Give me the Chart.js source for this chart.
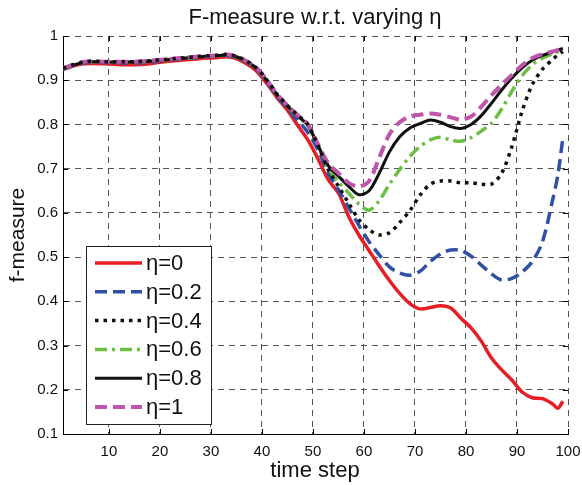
<!DOCTYPE html>
<html>
<head>
<meta charset="utf-8">
<script src="https://cdn.jsdelivr.net/npm/chart.js@4"></script>
<style>
html,body{margin:0;padding:0;background:#fff;}
canvas{display:block;}
</style>
</head>
<body>
<canvas id="c" width="582" height="485"></canvas>
<script>
const timeSteps = [1,3,5,7,9,11,13,15,17,19,21,23,25,27,29,31,33,35,37,39,41,43,45,47,49,51,53,55,57,59,61,63,65,67,69,71,73,75,77,79,81,83,85,87,89,91,93,95,97,98,99];

const eta0 = [0.924,0.932,0.937,0.938,0.937,0.936,0.935,0.935,0.936,0.939,0.942,0.944,0.946,0.948,0.950,0.951,0.953,0.949,0.937,0.920,0.892,0.860,0.832,0.798,0.765,0.722,0.675,0.645,0.592,0.550,0.515,0.480,0.447,0.418,0.395,0.383,0.386,0.390,0.385,0.362,0.340,0.310,0.272,0.245,0.222,0.195,0.182,0.180,0.168,0.158,0.174];
const eta02 = [0.925,0.933,0.939,0.941,0.940,0.940,0.939,0.939,0.940,0.942,0.945,0.947,0.949,0.951,0.953,0.954,0.956,0.952,0.941,0.924,0.896,0.863,0.837,0.810,0.782,0.742,0.690,0.652,0.612,0.572,0.535,0.505,0.478,0.464,0.459,0.468,0.490,0.507,0.516,0.515,0.502,0.482,0.462,0.448,0.452,0.466,0.490,0.535,0.630,0.685,0.770];
const eta04 = [0.927,0.935,0.941,0.943,0.942,0.942,0.942,0.942,0.943,0.945,0.947,0.949,0.951,0.953,0.955,0.956,0.958,0.954,0.943,0.927,0.900,0.868,0.843,0.821,0.800,0.752,0.698,0.660,0.622,0.585,0.562,0.550,0.555,0.578,0.605,0.640,0.665,0.672,0.672,0.668,0.668,0.665,0.665,0.690,0.750,0.830,0.890,0.925,0.947,0.957,0.965];
const eta06 = [0.926,0.934,0.940,0.942,0.941,0.941,0.941,0.941,0.942,0.944,0.946,0.948,0.950,0.952,0.954,0.955,0.957,0.953,0.942,0.926,0.898,0.866,0.841,0.819,0.797,0.752,0.702,0.670,0.645,0.620,0.606,0.628,0.665,0.698,0.728,0.750,0.765,0.771,0.765,0.762,0.770,0.785,0.803,0.835,0.875,0.910,0.935,0.950,0.960,0.964,0.968];
const eta08 = [0.926,0.934,0.940,0.942,0.941,0.941,0.941,0.941,0.942,0.944,0.946,0.948,0.950,0.952,0.954,0.955,0.957,0.953,0.942,0.926,0.898,0.866,0.841,0.819,0.798,0.752,0.707,0.683,0.660,0.641,0.650,0.690,0.738,0.772,0.792,0.802,0.810,0.805,0.795,0.791,0.800,0.820,0.848,0.878,0.905,0.928,0.945,0.956,0.964,0.968,0.972];
const eta1 = [0.927,0.935,0.941,0.943,0.942,0.942,0.942,0.942,0.943,0.945,0.947,0.949,0.951,0.953,0.955,0.956,0.958,0.954,0.943,0.927,0.900,0.868,0.843,0.821,0.800,0.755,0.712,0.690,0.668,0.660,0.672,0.725,0.778,0.805,0.818,0.822,0.825,0.822,0.816,0.811,0.818,0.840,0.866,0.890,0.912,0.934,0.950,0.959,0.965,0.968,0.972];

const seriesLabels = ['\u03b7=0','\u03b7=0.2','\u03b7=0.4','\u03b7=0.6','\u03b7=0.8','\u03b7=1'];
const xTickValues = [10,20,30,40,50,60,70,80,90,100];
const yTickValues = [0.1,0.2,0.3,0.4,0.5,0.6,0.7,0.8,0.9,1];

const FONT = '"Liberation Sans", Arial, Helvetica, sans-serif';

const styles = [
  {color:'#e61e23', width:3.5, dash:[], order:6},
  {color:'#3050a5', width:3.5, dash:[12,6], order:5},
  {color:'#111111', width:3.5, dash:[3.5,5], order:1},
  {color:'#6ebe46', width:3.5, dash:[12,5,3,5], order:4},
  {color:'#111111', width:3, dash:[], order:3},
  {color:'#be55aa', width:4, dash:[12,6], order:2}
];
const allSeries = [eta0, eta02, eta04, eta06, eta08, eta1];

const datasets = allSeries.map((vals, i) => ({
  label: seriesLabels[i],
  data: vals.map((v, k) => ({x: timeSteps[k], y: v})),
  borderColor: styles[i].color,
  backgroundColor: styles[i].color,
  borderWidth: styles[i].width,
  borderDash: styles[i].dash,
  borderCapStyle: 'butt',
  borderJoinStyle: 'round',
  pointRadius: 0,
  tension: 0.3,
  fill: false,
  order: styles[i].order
}));

const decor = {
  id: 'decor',
  afterDraw(chart) {
    const ctx = chart.ctx;
    const a = chart.chartArea;
    const xs = chart.scales.x, ys = chart.scales.y;
    ctx.save();
    // inward ticks
    ctx.strokeStyle = '#000';
    ctx.lineWidth = 1;
    ctx.setLineDash([]);
    ctx.beginPath();
    xTickValues.forEach(v => {
      const px = Math.round(xs.getPixelForValue(v)) + 0.5;
      ctx.moveTo(px, a.bottom); ctx.lineTo(px, a.bottom - 5);
      ctx.moveTo(px, a.top); ctx.lineTo(px, a.top + 5);
    });
    yTickValues.forEach(v => {
      const py = Math.round(ys.getPixelForValue(v)) + 0.5;
      ctx.moveTo(a.left, py); ctx.lineTo(a.left + 5, py);
      ctx.moveTo(a.right, py); ctx.lineTo(a.right - 5, py);
    });
    ctx.stroke();

    // titles
    ctx.fillStyle = '#111';
    ctx.textAlign = 'center';
    ctx.textBaseline = 'middle';
    ctx.font = '22px ' + FONT;
    ctx.fillText('F-measure w.r.t. varying \u03b7', 315, 18);
    ctx.font = '22px ' + FONT;
    ctx.fillText('time step', 315, 471);
    ctx.save();
    ctx.translate(18, (a.top + a.bottom) / 2);
    ctx.rotate(-Math.PI / 2);
    ctx.font = '21px ' + FONT;
    ctx.fillText('f-measure', 0, 0);
    ctx.restore();

    // legend
    const lx = 86.5, ly = 246.5, lw = 125, lh = 178;
    ctx.fillStyle = '#fff';
    ctx.fillRect(lx, ly, lw, lh);
    ctx.strokeStyle = '#222';
    ctx.lineWidth = 1;
    ctx.strokeRect(lx, ly, lw, lh);
    ctx.font = '22px ' + FONT;
    ctx.textAlign = 'left';
    ctx.textBaseline = 'middle';
    chart.data.datasets.forEach((ds, i) => {
      const y = 263 + i * 28.8;
      ctx.strokeStyle = ds.borderColor;
      ctx.lineWidth = ds.borderWidth;
      ctx.setLineDash(ds.borderDash);
      ctx.lineCap = 'butt';
      ctx.beginPath();
      ctx.moveTo(95, y); ctx.lineTo(142, y);
      ctx.stroke();
      ctx.setLineDash([]);
      ctx.fillStyle = '#111';
      ctx.fillText(ds.label, 146, y + 1);
    });
    ctx.restore();
  }
};

new Chart(document.getElementById('c'), {
  type: 'line',
  data: { datasets },
  plugins: [decor],
  options: {
    responsive: false,
    animation: false,
    layout: { padding: { left: 0, right: 14, top: 36, bottom: 0 } },
    plugins: { legend: { display: false }, tooltip: { enabled: false }, title: { display: false } },
    scales: {
      x: {
        type: 'linear',
        min: 1, max: 100,
        afterFit(s) { s.height = 51; s.paddingRight = 0; s.paddingLeft = 0; },
        afterBuildTicks(s) { s.ticks = xTickValues.map(v => ({value: v})); },
        grid: { color: '#555', lineWidth: 1, drawTicks: false },
        border: { display: true, color: '#000', width: 1, dash: [6, 5] },
        ticks: { color: '#111', font: { family: FONT, size: 15 }, padding: 9, maxRotation: 0, autoSkip: false }
      },
      y: {
        type: 'linear',
        min: 0.1, max: 1,
        afterFit(s) { s.width = 63; },
        afterBuildTicks(s) { s.ticks = yTickValues.map(v => ({value: v})); },
        grid: { color: '#555', lineWidth: 1, drawTicks: false },
        border: { display: true, color: '#000', width: 1, dash: [6, 5] },
        ticks: { color: '#111', font: { family: FONT, size: 15 }, padding: 5, callback: v => String(+v.toFixed(1)) }
      }
    }
  }
});
</script>
</body>
</html>
